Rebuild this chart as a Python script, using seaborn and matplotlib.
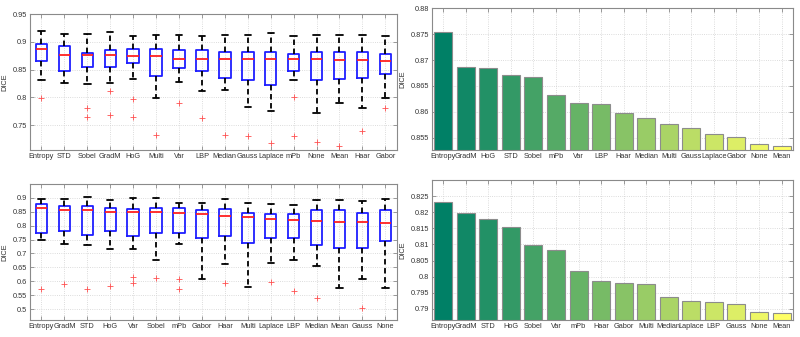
import numpy as np
import pandas as pd
import matplotlib
matplotlib.use("Agg")
import matplotlib.pyplot as plt
from matplotlib.ticker import FormatStrFormatter, MultipleLocator
import seaborn as sns

# ---- box plot summaries ----
# order: whisker low, q1, median, q3, whisker high
box1_names = ["Entropy", "STD", "Sobel", "GradM", "HoG", "Multi", "Var", "LBP",
              "Median", "Gauss", "Laplace", "mPb", "None", "Mean", "Haar", "Gabor"]
box1_wlo = [0.832, 0.826, 0.824, 0.825, 0.833, 0.799, 0.828, 0.812,
            0.814, 0.783, 0.775, 0.832, 0.772, 0.789, 0.781, 0.799]
box1_q1 = [0.865, 0.847, 0.855, 0.855, 0.861, 0.838, 0.852, 0.847,
           0.835, 0.832, 0.822, 0.848, 0.832, 0.833, 0.835, 0.842]
box1_med = [0.887, 0.877, 0.877, 0.876, 0.874, 0.874, 0.870, 0.870,
            0.870, 0.869, 0.869, 0.869, 0.869, 0.868, 0.868, 0.866]
box1_q3 = [0.897, 0.893, 0.880, 0.885, 0.888, 0.888, 0.886, 0.885,
           0.882, 0.882, 0.882, 0.879, 0.881, 0.881, 0.882, 0.878]
box1_whi = [0.920, 0.915, 0.915, 0.918, 0.911, 0.913, 0.913, 0.910,
            0.912, 0.912, 0.916, 0.910, 0.913, 0.913, 0.913, 0.910]
box1_out = [[0.798], [], [0.781, 0.765], [0.811, 0.768], [0.797, 0.765], [0.732],
            [0.789], [0.762], [0.732], [0.730], [0.718], [0.801, 0.731],
            [0.720], [0.713], [0.740], [0.781]]

box2_names = ["Entropy", "GradM", "STD", "HoG", "Var", "Sobel", "mPb", "Gabor",
              "Haar", "Multi", "Laplace", "LBP", "Median", "Mean", "Gauss", "None"]
box2_wlo = [0.750, 0.734, 0.732, 0.715, 0.715, 0.677, 0.735, 0.608,
            0.663, 0.580, 0.665, 0.677, 0.654, 0.576, 0.607, 0.578]
box2_q1 = [0.774, 0.781, 0.765, 0.781, 0.762, 0.775, 0.775, 0.757,
           0.764, 0.737, 0.757, 0.757, 0.729, 0.720, 0.719, 0.745]
box2_med = [0.863, 0.857, 0.857, 0.848, 0.848, 0.848, 0.844, 0.841,
            0.834, 0.832, 0.824, 0.819, 0.818, 0.813, 0.812, 0.808]
box2_q3 = [0.877, 0.871, 0.870, 0.864, 0.860, 0.862, 0.864, 0.857,
           0.858, 0.846, 0.841, 0.841, 0.856, 0.854, 0.845, 0.856]
box2_whi = [0.895, 0.896, 0.904, 0.890, 0.900, 0.900, 0.879, 0.880,
            0.896, 0.880, 0.878, 0.872, 0.892, 0.893, 0.887, 0.896]
box2_out = [[0.571], [0.592], [0.574], [0.585], [0.617, 0.593], [0.612],
            [0.608, 0.572], [], [0.593], [], [0.599], [0.566], [0.542],
            [], [0.503], []]

# ---- bar charts ----
bar1_names = ["Entropy", "GradM", "HoG", "STD", "Sobel", "mPb", "Var", "LBP",
              "Haar", "Median", "Multi", "Gauss", "Laplace", "Gabor", "None", "Mean"]
bar1_vals = [0.8755, 0.8687, 0.8685, 0.8671, 0.8667, 0.8633, 0.8616, 0.8615,
             0.8597, 0.8588, 0.8577, 0.8569, 0.8556, 0.8551, 0.8538, 0.8534]

bar2_names = ["Entropy", "GradM", "STD", "HoG", "Sobel", "Var", "mPb", "Haar",
              "Gabor", "Multi", "Median", "Laplace", "LBP", "Gauss", "None", "Mean"]
bar2_vals = [0.8231, 0.8198, 0.8180, 0.8155, 0.8097, 0.8083, 0.8016, 0.7985,
             0.7979, 0.7976, 0.7936, 0.7923, 0.7921, 0.7916, 0.7889, 0.7887]

sns.set_style("ticks")
plt.rcParams['font.family'] = ['Liberation Sans', 'DejaVu Sans']
fs = 5.3
tick_col = "#333333"
spine_col = "#8a8a8a"

fig = plt.figure(figsize=(8, 3.37), dpi=100)
ax_tl = fig.add_axes([0.0375, 0.555, 0.4585, 0.403])
ax_tr = fig.add_axes([0.540, 0.555, 0.451, 0.420])
ax_bl = fig.add_axes([0.0375, 0.049, 0.4585, 0.406])
ax_br = fig.add_axes([0.540, 0.050, 0.451, 0.417])


def style_axes(ax, ylim, step):
    ax.set_ylim(*ylim)
    ax.set_xlim(-0.5, 15.5)
    ax.yaxis.set_major_locator(MultipleLocator(step))
    ax.yaxis.set_major_formatter(FormatStrFormatter('%g'))
    ax.grid(True, linestyle=':', color='#d0d0d0', linewidth=0.6)
    ax.set_axisbelow(True)
    ax.tick_params(direction='in', top=True, right=True, length=3, width=0.6,
                   labelsize=fs, colors=tick_col, pad=2)
    ax.tick_params(axis='x', color=spine_col)
    ax.tick_params(axis='y', color=spine_col)
    for s in ax.spines.values():
        s.set_color(spine_col)
        s.set_linewidth(0.8)
    ax.set_ylabel("DICE", fontsize=fs, color=tick_col, labelpad=3)
    ax.set_xlabel("")


def draw_boxes(ax, names, wlo, q1, med, q3, whi, outs):
    stats = []
    for i in range(len(names)):
        stats.append(dict(label=names[i], whislo=wlo[i], q1=q1[i], med=med[i],
                          q3=q3[i], whishi=whi[i], fliers=outs[i]))
    ax.bxp(stats, positions=np.arange(len(names)), widths=0.5,
           boxprops=dict(color='#1f1fff', linewidth=1.3),
           medianprops=dict(color='#ff2020', linewidth=1.3),
           whiskerprops=dict(color='black', linewidth=1.3, linestyle=(0, (3, 2))),
           capprops=dict(color='black', linewidth=1.3),
           capwidths=0.28,
           flierprops=dict(marker='+', markeredgecolor='#ff5050',
                           markersize=4, markeredgewidth=0.6, linestyle='none'))
    ax.set_xticks(np.arange(len(names)))
    ax.set_xticklabels(names)


def draw_bars(ax, names, vals):
    df = pd.DataFrame({"method": names, "dice": vals})
    pal = [tuple(c) for c in plt.get_cmap("summer")(np.linspace(0, 1, len(names)))]
    sns.barplot(data=df, x="method", y="dice", hue="method", order=names,
                hue_order=names, palette=pal, legend=False, width=0.8,
                edgecolor='#8c8c8c', linewidth=0.8, saturation=1, ax=ax)


draw_boxes(ax_tl, box1_names, box1_wlo, box1_q1, box1_med, box1_q3, box1_whi, box1_out)
style_axes(ax_tl, (0.705, 0.95), 0.05)

draw_bars(ax_tr, bar1_names, bar1_vals)
style_axes(ax_tr, (0.8526, 0.88), 0.005)

draw_boxes(ax_bl, box2_names, box2_wlo, box2_q1, box2_med, box2_q3, box2_whi, box2_out)
style_axes(ax_bl, (0.46, 0.95), 0.05)
ax_bl.set_ylim(0.46, 0.95)
ax_bl.set_yticks(np.arange(0.5, 0.91, 0.05))

draw_bars(ax_br, bar2_names, bar2_vals)
style_axes(ax_br, (0.7865, 0.8301), 0.005)
ax_br.set_yticks(np.arange(0.79, 0.8251, 0.005))

fig.savefig("out.png", dpi=100)
